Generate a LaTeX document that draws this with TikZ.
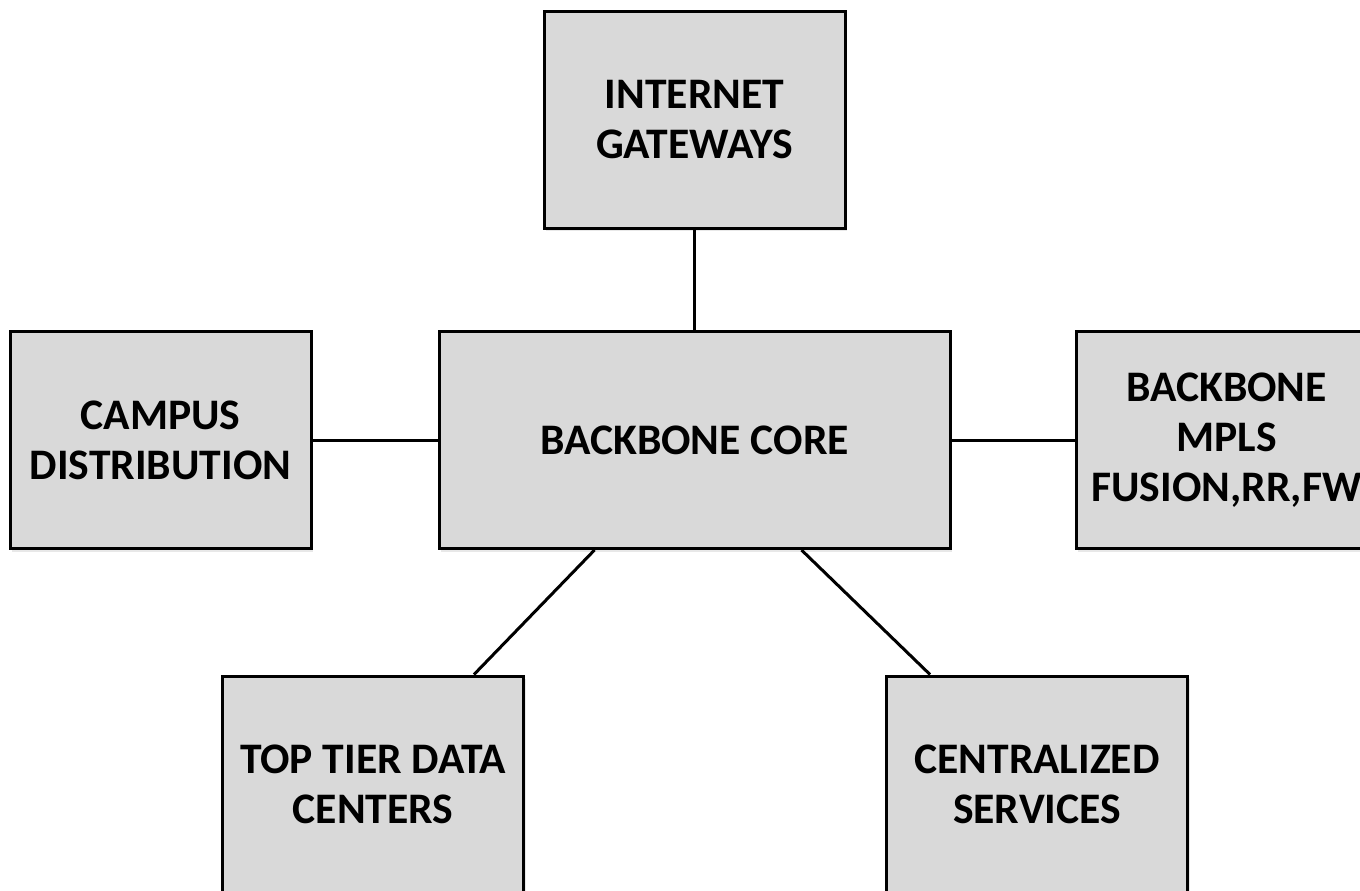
\documentclass[tikz,border=0pt]{standalone}
\usepackage{fontspec}
\setmainfont{Carlito}
\usetikzlibrary{shadows}
\tikzset{
    netbox/.style={draw=black,line width=1.5pt,fill=boxgray,align=center,
        minimum width=150.5pt,minimum height=108.5pt,inner sep=0pt,
        font=\fontsize{21.8}{25}\selectfont\bfseries,
        drop shadow={opacity=0.18,shadow xshift=1pt,shadow yshift=-1.5pt}},
    link/.style={line width=1.5pt,black}
}
\definecolor{boxgray}{HTML}{D9D9D9}
\begin{document}
\begin{tikzpicture}[x=0.5pt,y=-0.5pt]
            \useasboundingbox (0,0) rectangle (1360,890);
            % Boxes
            \node[netbox,minimum width=255.5pt] (core) at (694.5,440) {BACKBONE CORE};
            \node[netbox] (gateway) at (694.5,119.5) {INTERNET\\GATEWAYS};
            \node[netbox] (campus) at (160.5,440) {CAMPUS\\DISTRIBUTION};
            \node[netbox] (mpls) at (1226.5,440) {BACKBONE\\MPLS\\FUSION,RR,FW}; % runs off the right edge
            \node[netbox] (datacenter) at (373,784.5) {TOP TIER DATA\\CENTERS};
            \node[netbox] (services) at (1037,784.5) {CENTRALIZED\\SERVICES};
            % Links
            \draw[link] (gateway) -- (core);
            \draw[link] (campus) -- (core);
            \draw[link] (core) -- (mpls);
            \draw[link] ([xshift=-50pt]core.south) -- ([xshift=50.5pt]datacenter.north);
            \draw[link] ([xshift=53.5pt]core.south) -- ([xshift=-53.5pt]services.north);
           \end{tikzpicture}
\end{document}
